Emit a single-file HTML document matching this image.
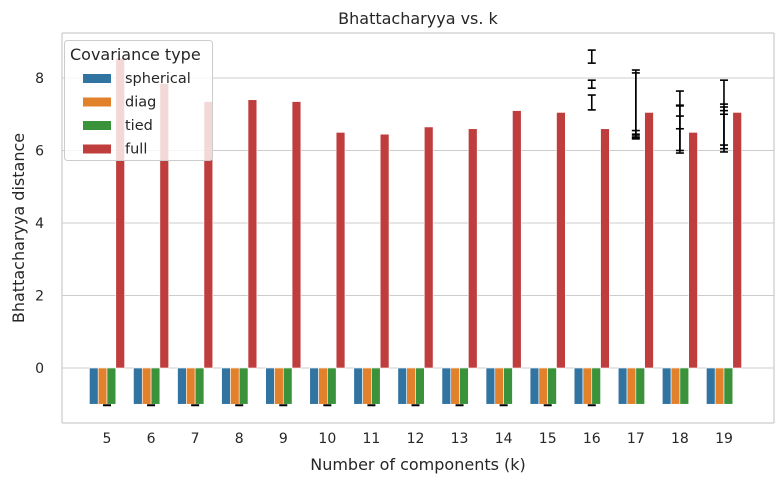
<!DOCTYPE html>
<html><head><meta charset="utf-8"><style>
body{margin:0;background:#fff;font-family:"Liberation Sans","DejaVu Sans",sans-serif;}
svg text{font-family:"DejaVu Sans","Liberation Sans",sans-serif;fill:#262626;}
</style></head><body>
<svg id="chart" width="784" height="484" xmlns="http://www.w3.org/2000/svg"></svg>
<script>
const categories=[5,6,7,8,9,10,11,12,13,14,15,16,17,18,19];
const spherical=[-1,-1,-1,-1,-1,-1,-1,-1,-1,-1,-1,-1,-1,-1,-1];
const diag=[-1,-1,-1,-1,-1,-1,-1,-1,-1,-1,-1,-1,-1,-1,-1];
const tied=[-1,-1,-1,-1,-1,-1,-1,-1,-1,-1,-1,-1,-1,-1,-1];
const full=[8.55,7.85,7.35,7.4,7.35,6.5,6.45,6.65,6.6,7.1,7.05,6.6,7.05,6.5,7.05];
const errK=[16,16,16,17,17,18,18,19,19];
const errLo=[8.41,7.72,7.12,6.32,6.35,5.93,6.0,5.96,6.05];
const errHi=[8.77,7.94,7.53,8.22,8.14,7.64,7.25,7.94,7.2];
const errCaps=[[],[],[],[6.55,6.45,6.4],[],[7.23,6.95,6.6],[],[7.0,7.1,7.28],[6.15]];
const yTicks=[0,2,4,6,8];
const seriesNames=["spherical","diag","tied","full"];
const colors=["#3274a1","#e1812c","#3a923a","#c03d3e"];
const svg=document.getElementById('chart');
const NS="http://www.w3.org/2000/svg";
const L=62,R=774,T=33,B=423;
const y=v=>368-v*36.25;
const x=i=>107+i*44.07;
function mk(t,a,p){const e=document.createElementNS(NS,t);for(const k in a)e.setAttribute(k,a[k]);(p||svg).appendChild(e);return e;}
let e;
e=mk('rect',{x:L,y:T,width:R-L,height:B-T,fill:'#fff'});


yTicks.forEach(v=>{
 e=mk('line',{x1:L,x2:R,y1:y(v),y2:y(v),stroke:'#cccccc','stroke-width':1});
 
 
 e=mk('text',{x:L-18,y:y(v)+5,'text-anchor':'end','font-size':14});e.textContent=v;
 
 
});
const series=[spherical,diag,tied,full];
const bw=8.8;
categories.forEach((c,i)=>{
 series.forEach((s,j)=>{
  const cx=x(i)+(j-1.5)*bw;
  const v=s[i];
  e=mk('rect',{x:cx-bw/2,y:Math.min(y(v),y(0)),width:bw,height:Math.abs(y(v)-y(0)),fill:colors[j],stroke:'#fff','stroke-width':0.6});
  
  
 });
 if(c<=16){
  e=mk('line',{x1:x(i)-4,x2:x(i)+4,y1:y(-1)+1,y2:y(-1)+1,stroke:'#000','stroke-width':2});
  
  
 }
 e=mk('text',{x:x(i),y:B+20,'text-anchor':'middle','font-size':14});e.textContent=c;
 
 
});
errK.forEach((k,n)=>{
 const cx=x(categories.indexOf(k));
 const g=mk('g',{stroke:'#000','stroke-width':1.6});
 
 
 mk('line',{x1:cx,x2:cx,y1:y(errLo[n]),y2:y(errHi[n])},g);
 [errLo[n],errHi[n]].concat(errCaps[n]).forEach(v=>mk('line',{x1:cx-4,x2:cx+4,y1:y(v),y2:y(v)},g));
});
['left','right','top','bottom'].forEach(s=>{
 const a={left:[L,T,L,B],right:[R,T,R,B],top:[L,T,R,T],bottom:[L,B,R,B]}[s];
 e=mk('line',{x1:a[0],y1:a[1],x2:a[2],y2:a[3],stroke:'#cccccc','stroke-width':1.25});
 
 
});
e=mk('text',{x:(L+R)/2,y:24,'text-anchor':'middle','font-size':16});e.textContent='Bhattacharyya vs. k';


e=mk('text',{x:(L+R)/2,y:470,'text-anchor':'middle','font-size':16});e.textContent='Number of components (k)';


e=mk('text',{x:24,y:(T+B)/2,'text-anchor':'middle','font-size':16,transform:'rotate(-90 24 '+((T+B)/2)+')'});e.textContent='Bhattacharyya distance';


const lg=mk('g',{});


mk('rect',{x:64.5,y:40.5,width:148,height:120,rx:3,fill:'#fff','fill-opacity':0.8,stroke:'#cccccc'},lg);
e=mk('text',{x:70,y:60,'font-size':16},lg);e.textContent='Covariance type';


seriesNames.forEach((n,j)=>{
 const yy=78+j*23.5;
 const it=mk('g',{},lg);
 
 
 mk('rect',{x:83,y:yy-4,width:28,height:9,fill:colors[j]},it);
 const t=mk('text',{x:125,y:yy+5,'font-size':14.5},it);t.textContent=n;
});
</script>
</body></html>
